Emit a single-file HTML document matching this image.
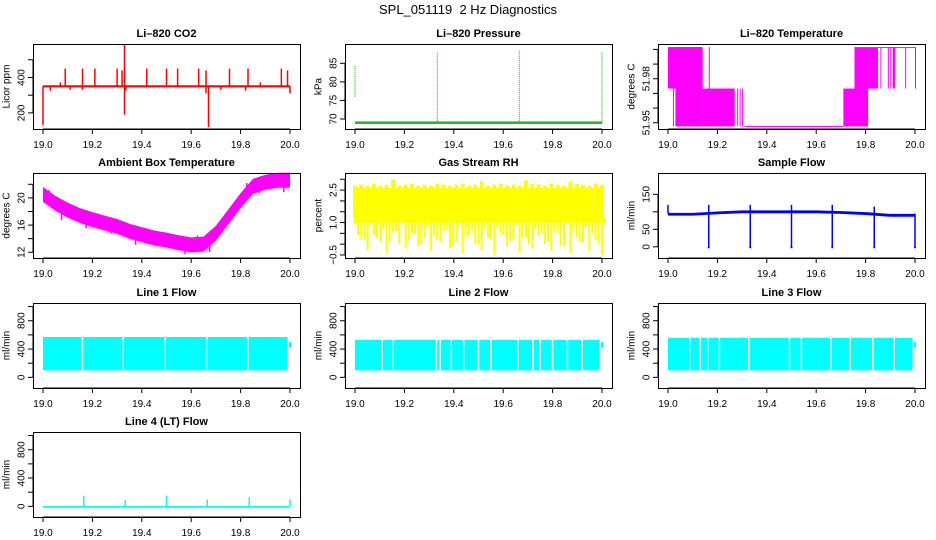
<!DOCTYPE html>
<html><head><meta charset="utf-8"><style>
html,body{margin:0;padding:0;background:#fff;}
svg{display:block;font-family:"Liberation Sans",Arial,sans-serif;}
</style></head><body>
<svg id="chart" width="936" height="540" viewBox="0 0 936 540" xmlns="http://www.w3.org/2000/svg">
<rect width="936" height="540" fill="#fff"/>
<text x="468" y="14" text-anchor="middle" font-size="13">SPL_051119&#160; 2 Hz Diagnostics</text>
</svg>
<script>
// ---- data ----
var xTicks = [19.0, 19.2, 19.4, 19.6, 19.8, 20.0];
var xTickLabels = ["19.0", "19.2", "19.4", "19.6", "19.8", "20.0"];

var co2Base = 350;
var co2UpX = [19.07,19.09,19.16,19.21,19.30,19.32,19.33,19.42,19.50,19.545,19.63,19.66,19.755,19.83,19.88,19.965,19.99];
var co2UpY = [372,450,450,450,450,440,585,450,450,450,450,440,450,450,372,450,440];
var co2DownX = [19.0,19.03,19.11,19.16,19.33,19.335,19.67,19.66,19.72,19.82,20.0];
var co2DownY = [130,325,330,330,190,325,120,310,330,325,310];

var presBase = 69;
var presSpikeX = [19.0, 19.333, 19.665, 20.0];
var presSpikeLo = [76, 69, 69, 69];
var presSpikeHi = [84.5, 88, 88.5, 88];

var tempSegStart = [19.0, 19.02, 19.03, 19.14, 19.165, 19.28, 19.29, 19.30, 19.31, 19.71, 19.755, 19.81, 19.85, 19.86, 19.89, 19.90, 19.91, 19.96, 20.0];
var tempSegEnd   = [19.14, 19.022, 19.14, 19.27, 19.168, 19.283, 19.293, 19.303, 19.71, 19.755, 19.81, 19.85, 20.0, 19.862, 19.892, 19.902, 19.92, 19.962, 20.002];
var tempSegLo    = [51.9733, 51.9475, 51.9475, 51.9475, 51.9475, 51.9475, 51.9475, 51.9475, 51.9475, 51.9475, 51.9475, 51.9733, 52.0014, 51.9733, 51.9733, 51.9733, 51.9733, 51.9733, 51.9733];
var tempSegHi    = [52.0016, 51.9733, 52.0016, 51.9733, 52.0016, 51.9733, 51.9733, 51.9733, 51.9477, 51.9733, 52.0016, 52.0016, 52.0016, 52.0016, 52.0016, 52.0016, 52.0016, 52.0016, 52.0016];

var ambX = [19.0,19.05,19.1,19.15,19.2,19.25,19.3,19.35,19.4,19.45,19.5,19.55,19.6,19.65,19.7,19.75,19.8,19.85,19.9,19.95,20.0];
var ambC = [20.5,19.2,18.2,17.4,16.8,16.3,15.8,15.1,14.6,14.1,13.8,13.4,13.1,13.2,14.8,17.2,19.6,21.7,22.3,22.6,22.6];
var ambNoise = [0.6,-0.9,0.4,-0.7,0.5,-0.6,0.3,-0.8,0.5,-0.5,0.4,-0.7,0.6,-0.9,0.3,-0.5,0.7,-0.6,0.4,-0.8,0.5];

var rhTop = [2.7,2.75,2.7,2.8,2.7,2.75,3.0,2.7,2.75,2.8,2.7,2.75,2.7,2.8,2.75,2.7,2.75,2.8,2.7,2.75,2.9,2.7,2.75,2.8,2.7,2.75,2.7,2.95,2.8,2.75,2.7,2.8,2.75,2.7,2.9,2.8,2.75,2.7,2.8,2.75];
var rhLow = [0.9,0.2,-0.3,0.4,0.1,-0.4,0.6,0.0,-0.2,0.5,-0.1,0.3,-0.3,0.2,0.6,-0.2,0.1,-0.4,0.4,0.0,-0.3,0.3,-0.5,0.5,-0.1,0.2,-0.4,0.3,-0.2,0.4,0.0,-0.3,0.5,-0.1,-0.4,0.3,0.1,-0.3,0.2,-0.5];

var sfX = [19.0,19.1,19.2,19.3,19.4,19.5,19.6,19.7,19.8,19.9,20.0];
var sfVal = [93,93,97,100,100,100,100,98,95,90,90];
var sfDipX = [19.165,19.333,19.5,19.665,19.835,20.0];
var sfSpikeX = [19.0,19.165,19.333,19.5,19.665,19.835];
var sfSpikeY = [120,120,120,120,120,115];

var l1Gaps = [19.16,19.325,19.495,19.665,19.83];
var l1Top = 570, l1Low = 100;
var l2Gaps = [19.11,19.155,19.33,19.345,19.39,19.44,19.5,19.55,19.66,19.72,19.75,19.8,19.86,19.92];
var l2Top = 530, l2Low = 100;
var l3Gaps = [19.088,19.131,19.161,19.208,19.327,19.492,19.54,19.66,19.738,19.829,19.916];
var l3Top = 560, l3Low = 100;
var l4SpikeX = [19.165,19.333,19.5,19.665,19.835,20.0];
var l4SpikeY = [150,90,150,100,130,100];

// ---- drawing ----
var svg = document.getElementById('chart');
var NS = 'http://www.w3.org/2000/svg';
var lefts = [33, 345, 658], tops = [44, 173, 303, 432], W = 267, H = 85;
function mk(tag, attrs, parent) {
  var e = document.createElementNS(NS, tag);
  for (var k in attrs) e.setAttribute(k, attrs[k]);
  (parent || svg).appendChild(e);
  return e;
}
function panel(col, row, name, title, ylab, ylim, yTicks, yLabels) {
  var L = lefts[col], T = tops[row];
  var g = mk('g', {});
  
  
  var P = {g: g, L: L, T: T,
    x: function (v) { return L + 10 + (v - 19) * 247; },
    y: function (v) { return T + H - (v - ylim[0]) / (ylim[1] - ylim[0]) * H; }};
  var t = mk('text', {x: L + W / 2, y: T - 7, 'text-anchor': 'middle', 'font-size': 11, 'font-weight': 'bold'}, g);
  
  
  t.textContent = title;
  var yl = mk('text', {x: L - 26, y: T + H / 2, 'text-anchor': 'middle', 'dominant-baseline': 'central', 'font-size': 10, transform: 'rotate(-90 ' + (L - 26) + ' ' + (T + H / 2) + ')'}, g);
  
  
  yl.textContent = ylab;
  mk('line', {x1: P.x(19), x2: P.x(20), y1: T + H, y2: T + H, stroke: '#000'}, g);
  for (var i = 0; i < xTicks.length; i++) {
    var xx = P.x(xTicks[i]);
    mk('line', {x1: xx, x2: xx, y1: T + H, y2: T + H + 5, stroke: '#000'}, g);
    var tl = mk('text', {x: xx, y: T + H + 19, 'text-anchor': 'middle', 'font-size': 10}, g);
    
    
    tl.textContent = xTickLabels[i];
  }
  mk('line', {x1: L, x2: L, y1: P.y(yTicks[0]), y2: P.y(yTicks[yTicks.length - 1]), stroke: '#000'}, g);
  for (var j = 0; j < yTicks.length; j++) {
    var yy = P.y(yTicks[j]);
    mk('line', {x1: L - 5, x2: L, y1: yy, y2: yy, stroke: '#000'}, g);
    if (yLabels[j]) {
      var lx = L - 11;
      var yt = mk('text', {x: lx, y: yy, 'text-anchor': 'middle', 'dominant-baseline': 'central', 'font-size': 10, transform: 'rotate(-90 ' + lx + ' ' + yy + ')'}, g);
      
      
      yt.textContent = yLabels[j];
    }
  }
  P.data = mk('g', {}, g);
  P.box = function () {
    mk('rect', {x: L + 0.5, y: T + 0.5, width: W, height: H, fill: 'none', stroke: '#000'}, g);
  };
  return P;
}
function vline(P, xv, y1, y2, col, w) {
  return mk('line', {x1: P.x(xv), x2: P.x(xv), y1: P.y(y1), y2: P.y(y2), stroke: col, 'stroke-width': w || 1}, P.data);
}
function band(P, x1, x2, lo, hi, col) {
  var a = P.y(hi), b = P.y(lo);
  return mk('rect', {x: P.x(x1), y: Math.min(a, b), width: Math.max(1, P.x(x2) - P.x(x1)), height: Math.max(1, Math.abs(b - a)), fill: col}, P.data);
}

// CO2
var p = panel(0, 0, 'co2-panel', 'Li\u2013820 CO2', 'Licor ppm', [109, 589], [200, 300, 400, 500], ['200', '', '400', '']);
band(p, 19.0, 20.0, co2Base - 6, co2Base + 6, '#ff0000');
for (var i = 0; i < co2UpX.length; i++) vline(p, co2UpX[i], co2Base, co2UpY[i], '#ff0000', 1.5);
for (var i = 0; i < co2DownX.length; i++) vline(p, co2DownX[i], co2Base, co2DownY[i], '#ff0000', 1.5);
p.box();

// Pressure
p = panel(1, 0, 'pressure-panel', 'Li\u2013820 Pressure', 'kPa', [67.3, 90.2], [70, 75, 80, 85], ['70', '75', '80', '85']);
band(p, 19.0, 20.0, presBase - 0.35, presBase + 0.35, '#22bb22');
for (var i = 0; i < presSpikeX.length; i++) {
  var ln = vline(p, presSpikeX[i], presSpikeLo[i], presSpikeHi[i], '#1a9a1a', 1);
  ln.setAttribute('stroke-dasharray', '1 1');
}
p.box();

// Li-820 temperature
p = panel(2, 0, 'li820-temperature-panel', 'Li\u2013820 Temperature', 'degrees C', [51.9457, 52.0037], [51.95, 51.96, 51.97, 51.98, 51.99, 52.00], ['51.95', '', '', '51.98', '', '']);
for (var i = 0; i < tempSegStart.length; i++) band(p, tempSegStart[i], tempSegEnd[i], tempSegLo[i], tempSegHi[i], '#ff00ff');
p.box();

// Ambient
p = panel(0, 1, 'ambient-temperature-panel', 'Ambient Box Temperature', 'degrees C', [11.16, 23.66], [12, 14, 16, 18, 20, 22], ['12', '', '16', '', '20', '']);
var pts = [];
for (var i = 0; i < ambX.length; i++) pts.push(p.x(ambX[i]) + ',' + p.y(ambC[i] + 1.1));
for (var i = ambX.length - 1; i >= 0; i--) pts.push(p.x(ambX[i]) + ',' + p.y(ambC[i] - 1.1));
mk('polygon', {points: pts.join(' '), fill: '#ff00ff'}, p.data);
for (var i = 0; i < ambX.length - 1; i++) {
  var xm = (ambX[i] + ambX[i + 1]) / 2, cm = (ambC[i] + ambC[i + 1]) / 2;
  vline(p, xm, cm, cm + ambNoise[i] * 2.2, '#ff00ff', 1.5);
}
p.box();

// RH
p = panel(1, 1, 'gas-stream-rh-panel', 'Gas Stream RH', 'percent', [-0.64, 3.29], [-0.5, 0, 0.5, 1.0, 1.5, 2.0, 2.5, 3.0], ['\u22120.5', '', '', '1.0', '', '', '2.5', '']);
band(p, 19.0, 20.0, 1.0, 2.6, '#ffff00');
for (var i = 0; i < rhTop.length; i++) {
  var xv = 19 + i / (rhTop.length - 1);
  vline(p, xv, 1.2, rhTop[i], '#ffff00', 4);
  vline(p, xv, 1.2, rhLow[i], '#ffff00', 2);
  vline(p, xv + 0.012, 1.2, rhLow[(i + 7) % rhLow.length] + 0.4, '#ffff00', 2);
}
p.box();

// Sample flow
p = panel(2, 1, 'sample-flow-panel', 'Sample Flow', 'ml/min', [-32, 211], [0, 50, 100, 150], ['0', '50', '', '150']);
pts = [];
for (var i = 0; i < sfX.length; i++) pts.push(p.x(sfX[i]) + ',' + p.y(sfVal[i] + 4));
for (var i = sfX.length - 1; i >= 0; i--) pts.push(p.x(sfX[i]) + ',' + p.y(sfVal[i] - 4));
mk('polygon', {points: pts.join(' '), fill: '#0000ff'}, p.data);
for (var i = 0; i < sfDipX.length; i++) { vline(p, sfDipX[i], 95, -3, '#0000ff', 1.5); band(p, sfDipX[i] - 0.004, sfDipX[i] + 0.004, -4, 0, '#0000ff'); }
for (var i = 0; i < sfSpikeX.length; i++) vline(p, sfSpikeX[i], 95, sfSpikeY[i], '#0000ff', 1.5);
p.box();

// Line flows
var flowTicks = [0, 200, 400, 600, 800, 1000], flowLabels = ['0', '', '400', '', '800', ''];
function flowPanel(col, row, name, title, gaps, top, low) {
  var q = panel(col, row, name, title, 'ml/min', [-150, 1050], flowTicks, flowLabels);
  band(q, 19.0, 19.99, low, top, '#00ffff');
  vline(q, 20.0, 420, 500, '#00ffff', 2);
  for (var i = 0; i < gaps.length; i++) vline(q, gaps[i], low + 5, top + 20, '#ffffff', 1.5);
  q.box();
}
flowPanel(0, 2, 'line1-flow-panel', 'Line 1 Flow', l1Gaps, l1Top, l1Low);
flowPanel(1, 2, 'line2-flow-panel', 'Line 2 Flow', l2Gaps, l2Top, l2Low);
flowPanel(2, 2, 'line3-flow-panel', 'Line 3 Flow', l3Gaps, l3Top, l3Low);

p = panel(0, 3, 'line4-flow-panel', 'Line 4 (LT) Flow', 'ml/min', [-150, 1050], flowTicks, flowLabels);
band(p, 19.0, 20.0, -20, 5, '#00ffff');
for (var i = 0; i < l4SpikeX.length; i++) vline(p, l4SpikeX[i], 0, l4SpikeY[i], '#00ffff', 1.5);
p.box();
</script>
</body></html>
